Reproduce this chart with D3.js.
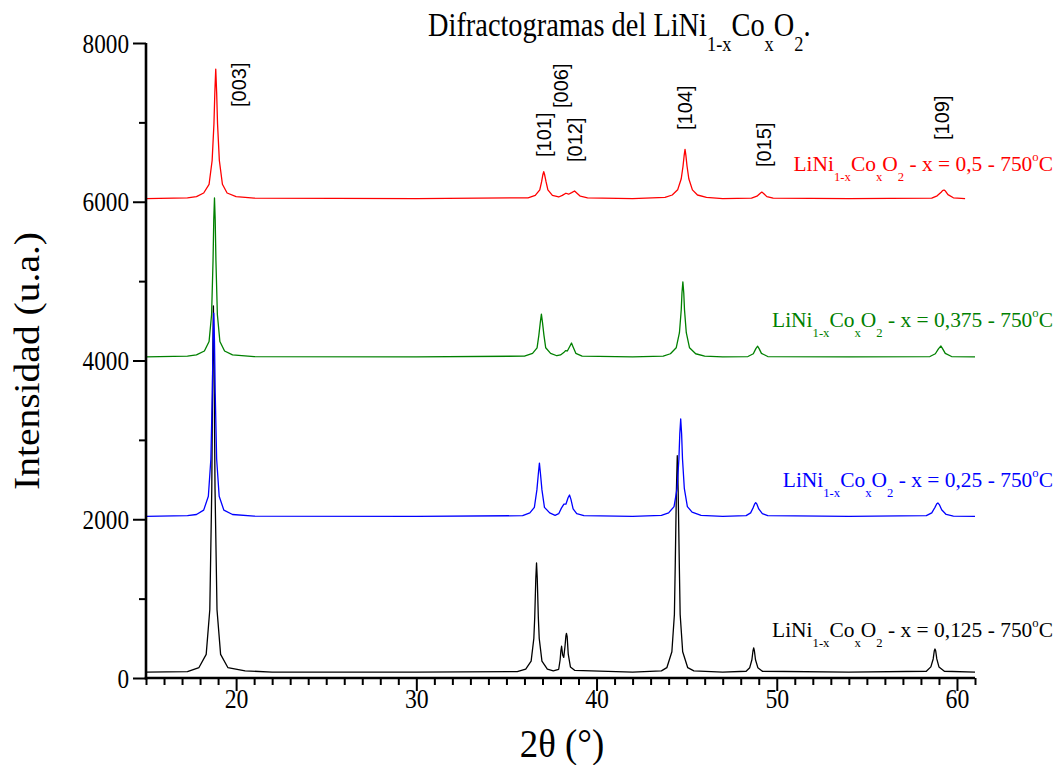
<!DOCTYPE html>
<html>
<head>
<meta charset="utf-8">
<script src="https://cdn.jsdelivr.net/npm/d3@7"></script>
<style>
  html, body { margin: 0; padding: 0; background: #fff; }
  svg { display: block; }
</style>
</head>
<body>
<svg id="chart" width="1060" height="765"></svg>
<script>
// ---------------- DATA ----------------
// 2θ (degrees) , intensity (a.u.)
const seriesBlack = [
  [15,75],[17.3,80],[17.94,132],[18.34,297],[18.54,859],[18.65,2381],[18.70,3925],[18.74,4687],[18.78,3925],[18.83,2381],[18.94,859],[19.14,297],[19.54,132],[20.5,90],[22,75],
  [30,75],[35.6,80],[36.07,112],[36.37,212],[36.52,498],[36.57,762],[36.63,1257],[36.67,1449],[36.71,1257],[36.77,762],[36.82,498],[36.97,212],[37.27,112],
  [37.6,90],[37.9,110],[37.98,230],[38.02,340],[38.06,400],[38.12,290],[38.18,260],[38.25,400],[38.30,530],[38.33,563],[38.37,520],[38.43,300],[38.55,140],[38.8,95],
  [42,75],[43.6,90],[43.9,130],[44.18,330],[44.32,800],[44.37,1460],[44.43,2350],[44.48,2800],[44.53,2350],[44.59,1460],[44.64,800],[44.78,330],[45.06,130],[45.4,90],
  [47,75],[48.3,85],[48.5,130],[48.62,230],[48.68,340],[48.72,378],[48.76,340],[48.82,230],[48.95,130],[49.2,85],
  [54,75],[58.3,85],[58.55,140],[58.68,240],[58.74,340],[58.78,365],[58.82,340],[58.88,240],[59.0,140],[59.3,85],[61,75]
];
const seriesBlue = [
  [15,2035],[17.3,2045],[17.8,2060],[18.2,2115],[18.46,2290],[18.6,2760],[18.68,3600],[18.72,4240],[18.76,4598],[18.80,4240],[18.84,3600],[18.92,2760],[19.06,2290],[19.32,2115],[19.8,2060],[21,2040],
  [30,2035],[35.9,2045],[36.3,2080],[36.55,2150],[36.69,2370],[36.77,2570],[36.83,2708],[36.89,2570],[36.97,2370],[37.11,2150],[37.4,2080],[37.7,2050],
  [37.9,2070],[38.05,2140],[38.19,2190],[38.3,2190],[38.42,2270],[38.5,2305],[38.58,2250],[38.7,2130],[38.9,2070],[39.3,2045],
  [42,2035],[43.6,2050],[44.0,2080],[44.3,2160],[44.47,2390],[44.57,2760],[44.62,3080],[44.67,3263],[44.72,3080],[44.77,2760],[44.87,2390],[45.04,2160],[45.3,2090],[45.8,2050],
  [47,2035],[48.3,2045],[48.55,2080],[48.7,2150],[48.78,2195],[48.83,2210],[48.9,2190],[49.0,2130],[49.2,2070],[49.5,2045],
  [54,2035],[58.3,2045],[58.6,2080],[58.78,2150],[58.88,2195],[58.94,2205],[59.02,2185],[59.15,2120],[59.4,2060],[59.8,2040],[61,2035]
];
const seriesGreen = [
  [15,4045],[17.3,4055],[17.8,4070],[18.24,4120],[18.5,4240],[18.64,4580],[18.72,5260],[18.76,5770],[18.8,6047],[18.84,5770],[18.88,5260],[18.96,4580],[19.1,4240],[19.36,4120],[19.8,4070],[21,4050],
  [30,4045],[36.0,4055],[36.45,4090],[36.7,4160],[36.8,4320],[36.88,4480],[36.94,4585],[37.0,4480],[37.08,4320],[37.18,4160],[37.45,4090],[37.8,4060],
  [38.0,4070],[38.18,4100],[38.28,4125],[38.38,4120],[38.52,4180],[38.61,4220],[38.7,4170],[38.85,4090],[39.2,4055],
  [42,4045],[43.7,4055],[44.1,4085],[44.42,4160],[44.6,4350],[44.7,4640],[44.74,4850],[44.79,4991],[44.84,4850],[44.88,4640],[44.98,4350],[45.16,4160],[45.5,4085],[46,4055],
  [47,4045],[48.4,4050],[48.7,4085],[48.84,4150],[48.94,4180],[49.02,4150],[49.15,4090],[49.5,4050],
  [54,4045],[58.5,4050],[58.8,4085],[58.98,4150],[59.11,4183],[59.2,4150],[59.35,4090],[59.7,4050],[61,4045]
];
const seriesRed = [
  [15,6040],[17.3,6050],[17.8,6065],[18.2,6110],[18.5,6220],[18.67,6520],[18.77,6980],[18.82,7380],[18.87,7672],[18.92,7380],[18.97,6980],[19.07,6520],[19.24,6220],[19.5,6110],[20,6065],[21,6045],
  [30,6040],[36.2,6050],[36.6,6080],[36.85,6150],[36.95,6250],[37.02,6340],[37.07,6380],[37.12,6340],[37.2,6250],[37.3,6150],[37.55,6080],[37.9,6060],
  [38.1,6080],[38.3,6107],[38.45,6095],[38.62,6115],[38.78,6135],[38.9,6110],[39.1,6070],[39.5,6050],
  [42,6040],[43.8,6055],[44.2,6085],[44.5,6150],[44.7,6290],[44.8,6450],[44.86,6580],[44.91,6660],[44.96,6580],[45.02,6450],[45.12,6290],[45.32,6150],[45.6,6085],[46.1,6055],
  [47,6040],[48.6,6045],[48.9,6070],[49.07,6105],[49.17,6122],[49.27,6105],[49.45,6065],[49.8,6045],
  [54,6040],[58.6,6045],[58.9,6075],[59.12,6120],[59.2,6140],[59.28,6148],[59.36,6135],[59.5,6090],[59.8,6050],[60.45,6040]
];

const seriesX      = ["0,125", "0,25", "0,375", "0,5"];
const seriesColors = ["#000000", "#0000ff", "#008000", "#ff0000"];
const seriesData   = [seriesBlack, seriesBlue, seriesGreen, seriesRed];
const seriesLabelAt = [517, 2406, 4422, 6387];   // intensity level of label baseline

const peakNames  = ["[003]", "[101]", "[006]", "[012]", "[104]", "[015]", "[109]"];
const peakTheta  = [20.56, 37.5, 38.44, 39.17, 45.28, 49.67, 59.56];
const peakAt     = [7194, 6564, 7181, 6501, 6904, 6438, 6778];

const xMajorTicks = [20, 30, 40, 50, 60];
const yMajorTicks = [0, 2000, 4000, 6000, 8000];
const yMinorTicks = [1000, 3000, 5000, 7000];

// ---------------- DRAWING ----------------
const svg = d3.select("#chart");
const x = d3.scaleLinear().domain([15, 61]).range([146, 975]);
const y = d3.scaleLinear().domain([0, 8000]).range([678, 43]);
const xMinorTicks = d3.range(15, 62).filter(v => v % 10 !== 0);

const SERIF = "'Liberation Serif', 'Times New Roman', serif";
const SANS = "'Liberation Sans', Arial, sans-serif";

// series lines (first series at the bottom)
const line = d3.line().x(d => x(d[0])).y(d => y(d[1])).curve(d3.curveLinear);
seriesData.forEach((s, i) => {
  svg.append("path")
    .datum(s)
    .attr("d", line)
    .attr("fill", "none")
    .attr("stroke", seriesColors[i])
    .attr("stroke-width", 1.3)
    .attr("stroke-linejoin", "round");
});

// axes
const axG = svg.append("g");
const xMinor = axG.append("g").attr("transform", "translate(0,678)")
  .call(d3.axisBottom(x).tickValues(xMinorTicks).tickSize(7).tickSizeOuter(0).tickFormat(""));
const xMajor = axG.append("g").attr("transform", "translate(0,678)")
  .call(d3.axisBottom(x).tickValues(xMajorTicks).tickSize(13).tickSizeOuter(0).tickFormat(d3.format("d")).tickPadding(5));
const yMinor = axG.append("g").attr("transform", "translate(146,0)")
  .call(d3.axisLeft(y).tickValues(yMinorTicks).tickSize(7).tickSizeOuter(0).tickFormat(""));
const yMajor = axG.append("g").attr("transform", "translate(146,0)")
  .call(d3.axisLeft(y).tickValues(yMajorTicks).tickSize(13).tickSizeOuter(0).tickFormat(d3.format("d")).tickPadding(4));

[xMinor, xMajor, yMinor, yMajor].forEach(g => {
  g.attr("font-family", SERIF);
  g.select(".domain").remove();
  g.selectAll(".tick line").attr("stroke", "#000").attr("stroke-width", 2);
});
axG.append("line").attr("x1", 146).attr("x2", 146).attr("y1", y(8000)).attr("y2", 679.5)
  .attr("stroke", "#000").attr("stroke-width", 2.6);
axG.append("line").attr("x1", 144.7).attr("x2", x(61)).attr("y1", 678).attr("y2", 678)
  .attr("stroke", "#000").attr("stroke-width", 2.6);

xMajor.selectAll(".tick text")
  .attr("font-family", SERIF).attr("font-size", 27).attr("fill", "#000")
  .attr("y", 0).attr("dy", 0)
  .attr("transform", "translate(0,30) scale(0.88,1)");
yMajor.selectAll(".tick text")
  .attr("font-family", SERIF).attr("font-size", 27).attr("fill", "#000")
  .attr("x", 0).attr("dy", 0).attr("text-anchor", "end")
  .attr("transform", "translate(-17,9) scale(0.86,1)");

// rich-text helper (sub / superscripts)
function rich(g, parts, size, subSize, subShift, supShift) {
  const t = g.append("text").attr("font-family", SERIF).attr("font-size", size);
  let cur = 0;
  parts.forEach(p => {
    const target = p.sub ? subShift : (p.sup ? supShift : 0);
    t.append("tspan")
      .attr("font-size", (p.sub || p.sup) ? subSize : size)
      .attr("dy", target - cur)
      .text(p.t);
    cur = target;
  });
  return t;
}

// title
const titleG = svg.append("g").attr("transform", "translate(428,36) scale(0.835,1)");
rich(titleG, [
  {t: "Difractogramas del LiNi"}, {t: "1-x", sub: true}, {t: "Co"}, {t: "x", sub: true},
  {t: "O"}, {t: "2", sub: true}, {t: "."}
], 34, 22, 15, 0).attr("fill", "#000");

// series labels
seriesX.forEach((xv, i) => {
  const g = svg.append("g").attr("transform", `translate(1053,${y(seriesLabelAt[i])}) scale(0.975,1)`);
  rich(g, [
    {t: "LiNi"}, {t: "1-x", sub: true}, {t: "Co"}, {t: "x", sub: true},
    {t: "O"}, {t: "2", sub: true}, {t: " - x = " + xv + " - 750"}, {t: "o", sup: true}, {t: "C"}
  ], 22, 13, 10, -10).attr("text-anchor", "end").attr("fill", seriesColors[i]);
});

// peak (hkl) labels
peakNames.forEach((n, i) => {
  svg.append("text")
    .attr("transform", `translate(${x(peakTheta[i])},${y(peakAt[i])}) rotate(-90)`)
    .attr("font-family", SANS).attr("font-size", 20).attr("fill", "#000")
    .text(n);
});

// axis titles
svg.append("text")
  .attr("transform", "translate(39,361) rotate(-90)")
  .attr("text-anchor", "middle")
  .attr("font-family", SERIF).attr("font-size", 36).attr("fill", "#000")
  .attr("textLength", 258).attr("lengthAdjust", "spacingAndGlyphs")
  .text("Intensidad (u.a.)");

svg.append("text")
  .attr("transform", "translate(562,757) scale(0.92,1)")
  .attr("text-anchor", "middle")
  .attr("font-family", SERIF).attr("font-size", 40).attr("fill", "#000")
  .text("2θ (°)");
</script>
</body>
</html>
